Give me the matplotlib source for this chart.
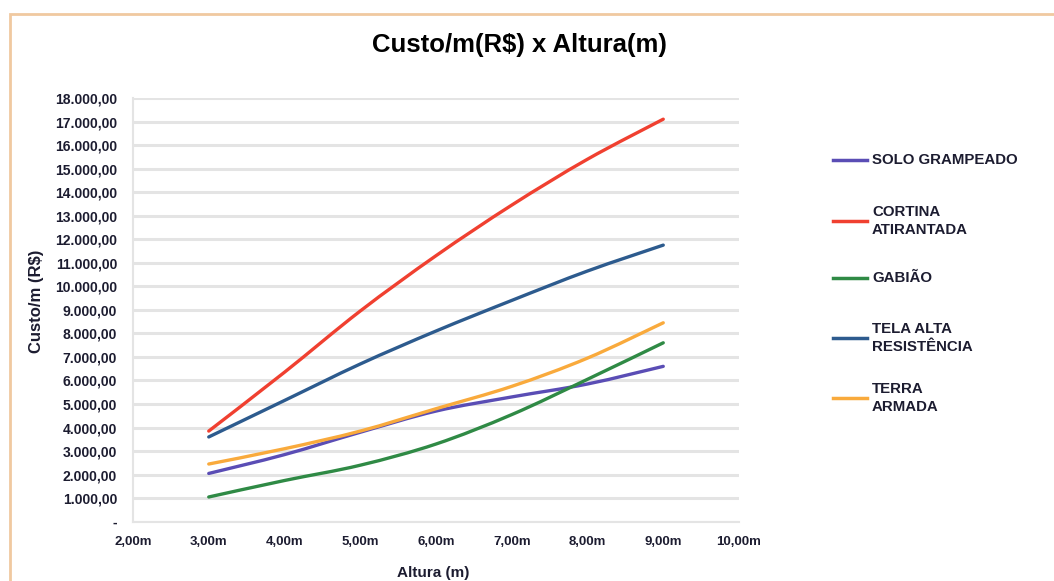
import matplotlib
matplotlib.use("Agg")
import matplotlib.pyplot as plt
from matplotlib.lines import Line2D
from matplotlib.patches import Rectangle, PathPatch
from matplotlib.path import Path

# altura do muro (m) e custo por metro (R$) de cada solução
alturas = [3, 4, 5, 6, 7, 8, 9]
solo_grampeado = [2050, 2850, 3800, 4700, 5300, 5850, 6600]
cortina_atirantada = [3850, 6350, 8950, 11300, 13450, 15400, 17100]
gabiao = [1050, 1750, 2400, 3300, 4550, 6050, 7600]
tela_alta = [3600, 5150, 6700, 8100, 9400, 10650, 11750]
terra_armada = [2450, 3100, 3850, 4800, 5750, 6950, 8450]

nomes = ["SOLO GRAMPEADO", "CORTINA\nATIRANTADA", "GABIÃO",
         "TELA ALTA\nRESISTÊNCIA", "TERRA\nARMADA"]
series = [solo_grampeado, cortina_atirantada, gabiao, tela_alta, terra_armada]
cores = ["#5a4db5", "#f04030", "#2f8a45", "#2d5b8e", "#f9aa3c"]

x_ticks = [2, 3, 4, 5, 6, 7, 8, 9, 10]
y_ticks = list(range(0, 18001, 1000))

TXT = "#1c1c30"
plt.rcParams["font.family"] = ["Liberation Sans", "DejaVu Sans"]


def fmt_brl(v):
    if v == 0:
        return "-"
    return f"{v:,.2f}".replace(",", "X").replace(".", ",").replace("X", ".")


def smooth_path(xs, ys):
    # linha suavizada (Catmull-Rom convertida em Bézier cúbica)
    verts = [(xs[0], ys[0])]
    codes = [Path.MOVETO]
    n = len(xs)
    for i in range(n - 1):
        x0, y0 = (xs[i - 1], ys[i - 1]) if i > 0 else (xs[i], ys[i])
        x1, y1 = xs[i], ys[i]
        x2, y2 = xs[i + 1], ys[i + 1]
        x3, y3 = (xs[i + 2], ys[i + 2]) if i + 2 < n else (x2, y2)
        c1 = (x1 + (x2 - x0) / 6, y1 + (y2 - y0) / 6)
        c2 = (x2 - (x3 - x1) / 6, y2 - (y3 - y1) / 6)
        verts += [c1, c2, (x2, y2)]
        codes += [Path.CURVE4] * 3
    return Path(verts, codes)


fig = plt.figure(figsize=(10.54, 5.81), dpi=100)
fig.patch.set_facecolor("white")

# moldura do gráfico
W, H = 1054, 581
fig.add_artist(Rectangle((10 / W, -0.05), 1.1, 1 - 14 / H + 0.05,
                         transform=fig.transFigure, fill=False,
                         edgecolor="#f0c9a0", linewidth=2))

ax = fig.add_axes([133 / W, 1 - 521.7 / H, 606 / W, (521.7 - 98) / H])
ax.set_xlim(2, 10)
ax.set_ylim(0, 18000)

for vals, cor in zip(series, cores):
    ax.add_patch(PathPatch(smooth_path(alturas, vals), facecolor="none",
                           edgecolor=cor, linewidth=2.4, capstyle="round"))

ax.set_yticks(y_ticks)
ax.set_yticklabels([fmt_brl(v) for v in y_ticks])
ax.set_xticks(x_ticks)
ax.set_xticklabels([f"{v},00m" for v in x_ticks])
ax.tick_params(axis="y", length=0, labelsize=10, labelcolor=TXT, pad=11.5)
ax.tick_params(axis="x", length=0, labelsize=9.5, labelcolor=TXT, pad=10)
for lab in ax.get_xticklabels() + ax.get_yticklabels():
    lab.set_fontweight("bold")

ax.grid(axis="y", color="#e4e4e4", linewidth=2.2)
ax.set_axisbelow(True)
for side in ["top", "right"]:
    ax.spines[side].set_visible(False)
for side in ["left", "bottom"]:
    ax.spines[side].set_color("#e4e4e4")
    ax.spines[side].set_linewidth(1.5)

ax.set_xlabel("Altura (m)", fontsize=11, fontweight="bold", color=TXT, labelpad=12)
ax.xaxis.set_label_coords(0.495, -0.105)
ax.set_ylabel("Custo/m (R$)", fontsize=12, fontweight="bold", color=TXT, labelpad=8)
ax.yaxis.set_label_coords(-0.147, 0.52)

fig.text(519 / W, 1 - 45 / H, "Custo/m(R$) x Altura(m)", ha="center", va="center",
         fontsize=18.5, fontweight="bold", color="black")

# legenda à direita
leg_y = [160, 221, 278, 338, 398]
for nome, cor, yy in zip(nomes, cores, leg_y):
    fy = 1 - yy / H
    fig.add_artist(Line2D([833 / W, 867 / W], [fy, fy], transform=fig.transFigure,
                          color=cor, linewidth=2.5))
    fig.text(872 / W, fy, nome, ha="left", va="center", fontsize=10.8,
             fontweight="bold", color=TXT, linespacing=1.3)

fig.savefig("out.png", dpi=100)
